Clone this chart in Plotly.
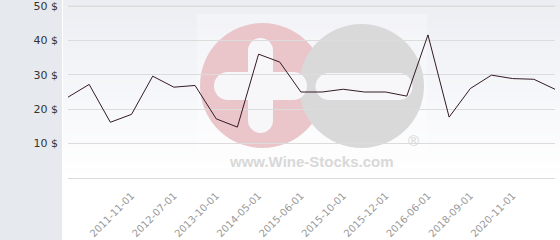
import plotly.graph_objects as go

# ---- data ----
point_index = list(range(24))
prices = [23.5, 27.2, 16.2, 18.5, 29.6, 26.4, 26.9, 17.2, 14.8, 36.0, 33.7, 25.0,
          25.0, 25.8, 25.0, 25.0, 23.8, 41.6, 17.7, 26.0, 29.9, 28.9, 28.7, 25.8]
tick_positions = [3, 5, 7, 9, 11, 13, 15, 17, 19, 21]
tick_labels = ["2011-11-01", "2012-07-01", "2013-10-01", "2014-05-01", "2015-06-01",
               "2015-10-01", "2015-12-01", "2016-06-01", "2018-09-01", "2020-11-01"]
y_tick_values = [0, 10, 20, 30, 40, 50]
y_tick_labels = ["", "10 $", "20 $", "30 $", "40 $", "50 $"]

W, H = 560, 240
def px(x): return x / W
def py(y): return 1 - y / H

shapes = []
# gradient background of plot area
n = 30
top = (236, 238, 243)
for i in range(n):
    t = i / (n - 1)
    c = tuple(round(top[k] + (255 - top[k]) * t) for k in range(3))
    y0 = 0 + i * 180 / n
    y1 = y0 + 180 / n + 0.5
    shapes.append(dict(type="rect", xref="paper", yref="paper", x0=px(63), x1=1,
                       y0=py(y1), y1=py(y0), line_width=0,
                       fillcolor="rgb(%d,%d,%d)" % c, layer="below"))
# left panel
shapes.append(dict(type="rect", xref="paper", yref="paper", x0=0, x1=px(62), y0=0, y1=1,
                   line_width=0, fillcolor="#e6eaee", layer="below"))
# watermark backdrop
shapes.append(dict(type="rect", xref="paper", yref="paper", x0=px(197), x1=px(427),
                   y0=py(174), y1=py(14), line_width=0, fillcolor="rgba(255,255,255,0.3)",
                   layer="below"))
# red circle
shapes.append(dict(type="circle", xref="paper", yref="paper", x0=px(200), x1=px(325),
                   y0=py(148), y1=py(23), line_width=0, fillcolor="#eac6cb", layer="below"))
# gray circle
shapes.append(dict(type="circle", xref="paper", yref="paper", x0=px(299), x1=px(424),
                   y0=py(148), y1=py(24), line_width=0, fillcolor="#d9d9d9", layer="below"))
def rrect(x0, x1, y0, y1):
    return dict(type="rect", xref="paper", yref="paper", x0=px(x0), x1=px(x1),
                y0=py(y1), y1=py(y0), line_width=0, fillcolor="#f7f7f9", layer="below")
def cap(cx, cy, r):
    return dict(type="circle", xref="paper", yref="paper", x0=px(cx - r), x1=px(cx + r),
                y0=py(cy + r), y1=py(cy - r), line_width=0, fillcolor="#f7f7f9", layer="below")
shapes += [rrect(248, 273, 50, 121), cap(260.5, 50.5, 12.5), cap(260.5, 120.5, 12.5),
           rrect(228, 294, 72, 100), cap(228, 86, 14), cap(293, 86, 14),
           rrect(329, 399, 73, 100), cap(329, 86.5, 13.5), cap(399, 86.5, 13.5)]
# make sure the top grid line (at the highest tick) is drawn
shapes.append(dict(type="line", xref="x domain", yref="y", x0=0, x1=1,
                   y0=y_tick_values[-1], y1=y_tick_values[-1],
                   line=dict(color="#dcdcdc", width=1), layer="above"))

fig = go.Figure()
fig.add_trace(go.Scatter(x=point_index, y=prices, mode="lines",
                         line=dict(color="#331a26", width=1), hoverinfo="skip"))

PXU = 3.44  # pixels per unit
fig.update_layout(
    width=W, height=H, margin=dict(l=0, r=0, t=0, b=0),
    paper_bgcolor="white", plot_bgcolor="rgba(0,0,0,0)",
    showlegend=False, shapes=shapes,
    xaxis=dict(domain=[px(68), px(555)], range=[0, 23], tickvals=tick_positions,
               ticktext=tick_labels, tickangle=-45, showgrid=False, zeroline=False,
               ticks="outside", ticklen=5, tickcolor="rgba(0,0,0,0)",
               tickfont=dict(family="DejaVu Sans", size=10, color="#999999"),
               showline=False),
    yaxis=dict(domain=[1 - 180 / H, 1], range=[-2 / PXU, 178 / PXU], tickvals=y_tick_values,
               ticktext=y_tick_labels, showgrid=True, gridcolor="#dcdcdc", gridwidth=1,
               zeroline=False, ticks="", ticklabelstandoff=9, ticklabeloverflow="allow",
               tickfont=dict(family="DejaVu Sans", size=11, color="#333333")),
    annotations=[
        dict(text="www.Wine-Stocks.com", xref="paper", yref="paper", x=px(311), y=py(161),
             showarrow=False, xanchor="center", yanchor="middle",
             font=dict(family="Liberation Sans", size=15, color="#d8d8d8", weight="bold")),
        dict(text="®", xref="paper", yref="paper", x=px(413), y=py(140),
             showarrow=False, xanchor="center", yanchor="middle",
             font=dict(family="Liberation Sans", size=15, color="#d4d4d4")),
    ],
)
fig.write_html("out.html")
